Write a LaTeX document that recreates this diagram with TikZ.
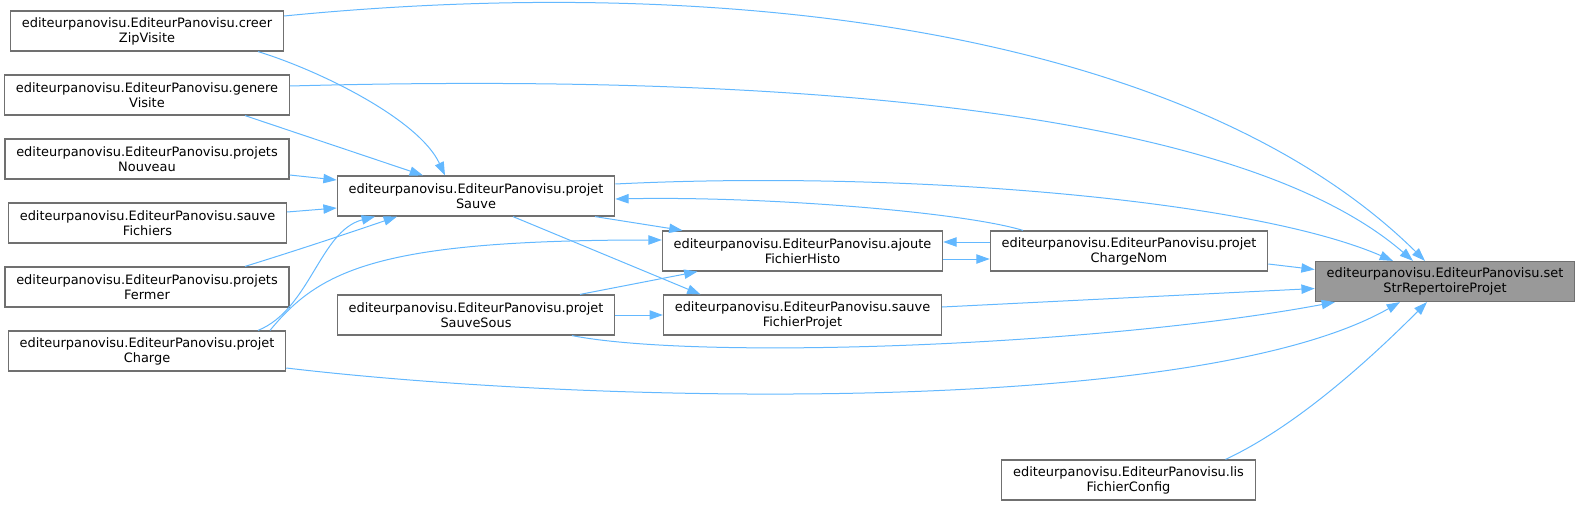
\documentclass[tikz,border=0pt]{standalone}
\usepackage{fontspec}
\setmainfont{DejaVu Sans}
\usepackage{xcolor}
\usepackage{tikz}
\usetikzlibrary{arrows.meta,calc}
\definecolor{edgeblue}{HTML}{63B8FF}
\definecolor{boxgray}{HTML}{707070}
\definecolor{hlgray}{HTML}{999999}

\begin{document}
\begin{tikzpicture}[
    x=0.75pt, y=-0.75pt,
    fn/.style={draw=boxgray, fill=white, line width=0.9pt, minimum height=30pt, inner xsep=8.5pt, inner ysep=2pt, font=\fontsize{9.7}{11.25}\selectfont, align=center},
    hl/.style={fn, fill=hlgray},
    arr/.style={-{Triangle[length=10pt, width=7pt]}, edgeblue, line width=0.75pt}
]
\useasboundingbox (0,0) rectangle (1580,506);

\node[fn] (creer) at (147,31) {editeurpanovisu.EditeurPanovisu.creer\\ZipVisite};
\node[fn] (genere) at (147,95) {editeurpanovisu.EditeurPanovisu.genere\\Visite};
\node[fn] (nouveau) at (147,159) {editeurpanovisu.EditeurPanovisu.projets\\Nouveau};
\node[fn] (sauvefich) at (147.5,223) {editeurpanovisu.EditeurPanovisu.sauve\\Fichiers};
\node[fn] (fermer) at (147,287) {editeurpanovisu.EditeurPanovisu.projets\\Fermer};
\node[fn] (charge) at (147,351) {editeurpanovisu.EditeurPanovisu.projet\\Charge};

\node[fn] (sauve) at (476,196) {editeurpanovisu.EditeurPanovisu.projet\\Sauve};
\node[fn] (sauvesous) at (476,315) {editeurpanovisu.EditeurPanovisu.projet\\SauveSous};
\node[fn] (ajoute) at (802.5,251) {editeurpanovisu.EditeurPanovisu.ajoute\\FichierHisto};
\node[fn] (sauveprojet) at (802.5,315) {editeurpanovisu.EditeurPanovisu.sauve\\FichierProjet};
\node[fn] (chargenom) at (1129,251) {editeurpanovisu.EditeurPanovisu.projet\\ChargeNom};
\node[fn] (lis) at (1128.5,480) {editeurpanovisu.EditeurPanovisu.lis\\FichierConfig};
\node[hl] (setstr) at (1445,281.5) {editeurpanovisu.EditeurPanovisu.set\\StrRepertoireProjet};

\draw[arr] ($(creer.east)+(0,-15)$) .. controls +(467,-46) and +(-225,-222) .. ($(setstr.north)+(-20,0)$);
\draw[arr] ($(genere.east)+(0,-9)$) .. controls +(411,-11) and +(-193,-167) .. ($(setstr.north)+(-32,0)$);
\draw[arr] ($(sauve.east)+(0,-12)$) .. controls +(285,-14) and +(-143,-62) .. ($(setstr.north)+(-52,0)$);
\draw[arr] ($(creer.south)+(111,0)$) .. controls +(62,19) and +(-26,-56) .. ($(sauve.north)+(-31,0)$);
\draw[arr] ($(genere.south)+(98,0)$) -- ($(sauve.north)+(-53,0)$);
\draw[arr] ($(nouveau.east)+(0,16)$) -- ($(sauve.west)+(0,-16)$);
\draw[arr] ($(sauvefich.east)+(0,-11)$) -- ($(sauve.west)+(0,12)$);
\draw[arr] ($(fermer.north)+(98,0)$) .. controls +(55,-17) and +(-47,16) .. ($(sauve.south)+(-79,0)$);
\draw[arr] ($(charge.north)+(111,0)$) .. controls +(52,-21) and +(-55,14) .. ($(sauve.south)+(-101,0)$);
\draw[arr] ($(charge.north)+(123,0)$) .. controls +(50,-61) and +(-282,0) .. ($(ajoute.west)+(0,-11)$);
\draw[arr] ($(charge.east)+(0,17)$) .. controls +(314,37) and +(-200,114) .. ($(setstr.south)+(-45,0)$);
\draw[arr] ($(sauve.south)+(119,0)$) -- ($(ajoute.north)+(-120,0)$);
\draw[arr] ($(sauve.south)+(37,0)$) -- ($(sauveprojet.north)+(-102,0)$);
\draw[arr] ($(chargenom.north)+(-106,0)$) .. controls +(-63,-19) and +(145,-3) .. ($(sauve.east)+(0,3)$);
\draw[arr] ($(chargenom.west)+(0,-9)$) -- ($(ajoute.east)+(0,-9)$);
\draw[arr] ($(ajoute.east)+(0,8)$) -- ($(chargenom.west)+(0,8)$);
\draw[arr] ($(chargenom.east)+(0,13)$) -- ($(setstr.west)+(0,-12)$);
\draw[arr] ($(sauveprojet.east)+(0,-8)$) -- ($(setstr.west)+(0,7)$);
\draw[arr] ($(sauvesous.north)+(104,0)$) -- ($(ajoute.south)+(-105,0)$);
\draw[arr] (sauvesous) -- (sauveprojet);
\draw[arr] ($(sauvesous.south)+(96,0)$) .. controls +(128,25) and +(-235,44) .. ($(setstr.south)+(-110,0)$);
\draw[arr] ($(lis.north)+(97,0)$) .. controls +(75,-35) and +(-50,50) .. ($(setstr.south)+(-18,0)$);
\end{tikzpicture}
\end{document}
